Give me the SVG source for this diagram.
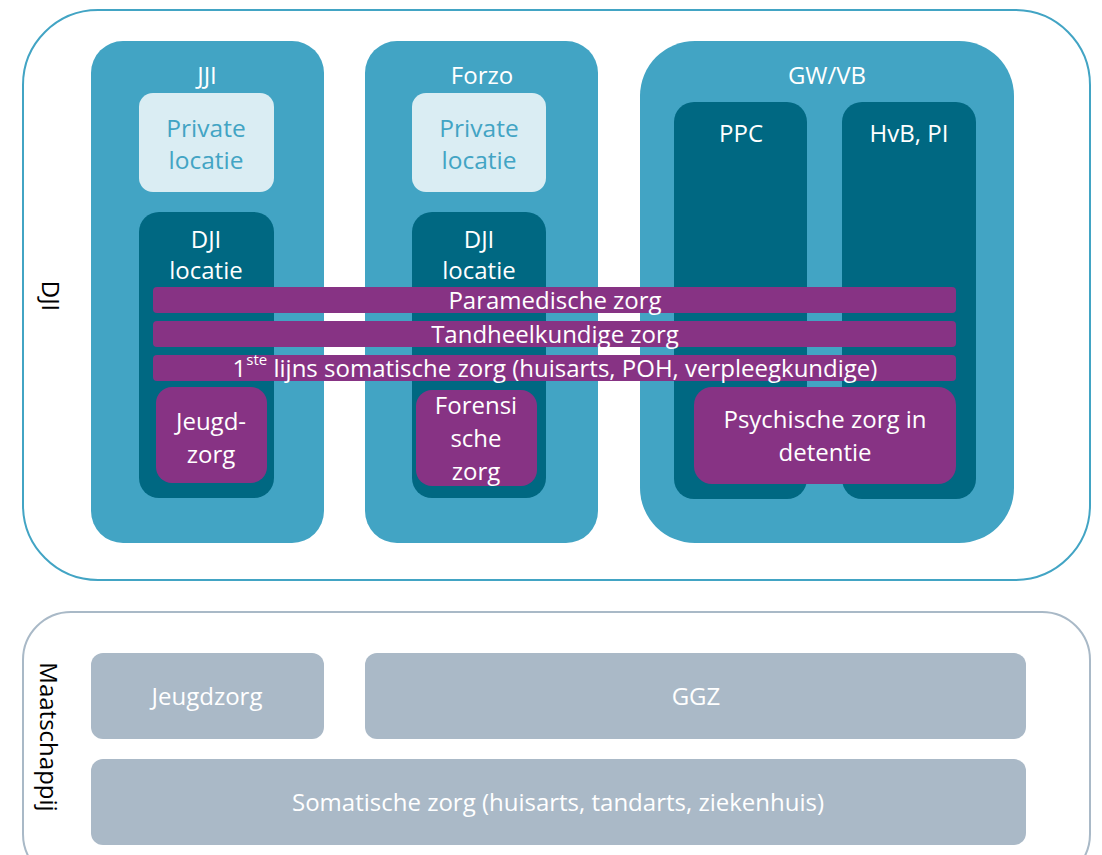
<svg xmlns="http://www.w3.org/2000/svg" width="1102" height="855" viewBox="0 0 1102 855">
<style>
text{font-family:"Open Sans","Noto Sans","Liberation Sans",sans-serif;text-anchor:middle;dominant-baseline:central}
.col{fill:#42a4c4}
.dark{fill:#006882}
.priv{fill:#daedf3}
.pur{fill:#873384}
.gray{fill:#aab9c7}
.tw{fill:#ffffff;font-size:24px}
.tp{fill:#42a4c4;font-size:24.5px}
.tb{fill:#ffffff;font-size:24px}
.tg{fill:#ffffff;font-size:24px}
.lab{fill:#000000;font-size:24px}
</style>
<rect width="1102" height="855" fill="#ffffff"/>
<g id="dji">
<rect x="23" y="10" width="1067" height="570" rx="75" fill="none" stroke="#42a4c4" stroke-width="2"/>
<text class="lab" transform="translate(51,296) rotate(90)">DJI</text>
</g>
<g id="jji">
<rect class="col" x="91" y="41" width="233" height="502" rx="32"/>
<text class="tw" x="207" y="74">JJI</text>
</g>
<g id="forzo">
<rect class="col" x="365" y="41" width="233" height="502" rx="32"/>
<text class="tw" x="482" y="74">Forzo</text>
</g>
<g id="gwvb">
<rect class="col" x="640" y="41" width="374" height="502" rx="55"/>
<text class="tw" x="827" y="74">GW/VB</text>
</g>
<g id="jji-private">
<rect class="priv" x="139" y="93" width="135" height="99" rx="14"/>
<text class="tp" x="206" y="127">Private</text>
<text class="tp" x="206" y="159">locatie</text>
</g>
<g id="forzo-private">
<rect class="priv" x="412" y="93" width="134" height="99" rx="14"/>
<text class="tp" x="479" y="127">Private</text>
<text class="tp" x="479" y="159">locatie</text>
</g>
<g id="jji-dji">
<rect class="dark" x="139" y="212" width="135" height="286" rx="20"/>
<text class="tb" x="206" y="238">DJI</text>
<text class="tb" x="206" y="269">locatie</text>
</g>
<g id="forzo-dji">
<rect class="dark" x="412" y="212" width="134" height="286" rx="20"/>
<text class="tb" x="479" y="238">DJI</text>
<text class="tb" x="479" y="269">locatie</text>
</g>
<g id="ppc">
<rect class="dark" x="674" y="102" width="133" height="397" rx="20"/>
<text class="tw" x="741" y="132">PPC</text>
</g>
<g id="hvb">
<rect class="dark" x="842" y="102" width="134" height="397" rx="20"/>
<text class="tw" x="909" y="132">HvB, PI</text>
</g>
<g id="paramedisch">
<rect class="pur" x="153" y="287" width="803" height="26" rx="4"/>
<text class="tb" x="555" y="299">Paramedische zorg</text>
</g>
<g id="tandheelkundig">
<rect class="pur" x="153" y="321" width="803" height="26" rx="4"/>
<text class="tb" x="555" y="333">Tandheelkundige zorg</text>
</g>
<g id="somatisch1e">
<rect class="pur" x="153" y="355" width="803" height="26" rx="4"/>
<text class="tb" x="555" y="367">1<tspan font-size="15" dy="-8">ste</tspan><tspan dy="8"> lijns somatische zorg (huisarts, POH, verpleegkundige)</tspan></text>
</g>
<g id="jeugdzorg-dji">
<rect class="pur" x="156" y="387" width="111" height="96" rx="16"/>
<text class="tb" x="211" y="420">Jeugd-</text>
<text class="tb" x="211" y="453">zorg</text>
</g>
<g id="forensisch">
<rect class="pur" x="416" y="390" width="121" height="96" rx="16"/>
<text class="tb" x="476" y="404">Forensi</text>
<text class="tb" x="476" y="437">sche</text>
<text class="tb" x="476" y="470">zorg</text>
</g>
<g id="psychisch">
<rect class="pur" x="694" y="387" width="262" height="97" rx="18"/>
<text class="tb" x="825" y="418">Psychische zorg in</text>
<text class="tb" x="825" y="451">detentie</text>
</g>
<g id="maatschappij">
<rect x="23" y="612" width="1067" height="270" rx="48" fill="none" stroke="#a9b9c7" stroke-width="2"/>
<text class="lab" transform="translate(49,737) rotate(90)">Maatschappij</text>
</g>
<g id="jeugdzorg">
<rect class="gray" x="91" y="653" width="233" height="86" rx="12"/>
<text class="tg" x="207" y="695">Jeugdzorg</text>
</g>
<g id="ggz">
<rect class="gray" x="365" y="653" width="661" height="86" rx="12"/>
<text class="tg" x="696" y="695">GGZ</text>
</g>
<g id="somatisch">
<rect class="gray" x="91" y="759" width="935" height="86" rx="12"/>
<text class="tg" x="558" y="801">Somatische zorg (huisarts, tandarts, ziekenhuis)</text>
</g>
<g id="connectors"></g>
</svg>
